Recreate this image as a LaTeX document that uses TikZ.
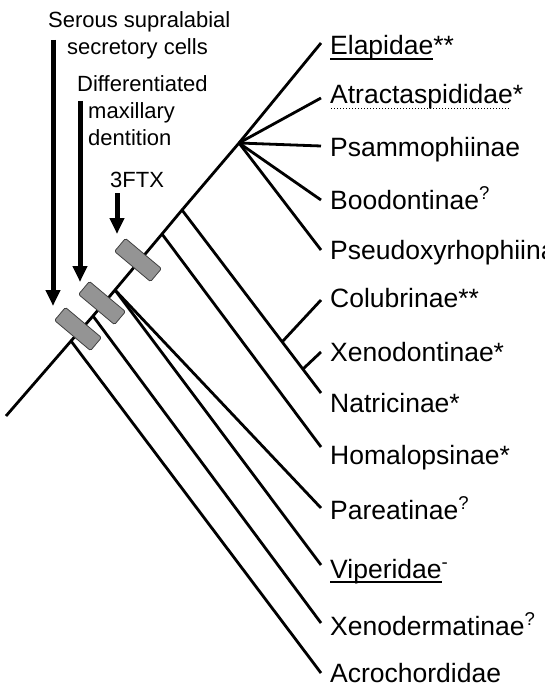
\documentclass[tikz,border=0pt]{standalone}
\usepackage{fontspec}
\setmainfont{Liberation Sans}
\usetikzlibrary{arrows.meta}
\newcommand{\ulsolid}[1]{\setbox0\hbox{#1}\rlap{\rule[-5pt]{\wd0}{1.6pt}}\box0}
\newcommand{\uldotted}[1]{\setbox0\hbox{#1}\rlap{\hbox to \wd0{\leaders\hbox to 3pt{\hss\rule[-5pt]{1.3pt}{1.3pt}\hss}\hfill}}\box0}
\begin{document}
\begin{tikzpicture}[x=1pt,y=-1pt,
  branch/.style={line width=2.8pt,line join=round},
  leaf/.style={anchor=base west,inner sep=0pt,font=\fontsize{26.5}{30}\selectfont},
  note/.style={anchor=base west,inner sep=0pt,font=\fontsize{22}{26}\selectfont},
  gainbox/.style={draw=black!75,line width=0.8pt,fill=black!42,rounded corners=1.5pt,
    minimum width=47pt,minimum height=17pt,inner sep=0pt,rotate=-40},
  gain/.style={line width=5pt,-{Triangle[width=14pt,length=16pt]}}]
  \useasboundingbox (0,0) rectangle (544,687);
  % spine of the tree
  \coordinate (root) at (6,416);
  \coordinate (n1) at (71,341);
  \coordinate (n2) at (93,316);
  \coordinate (n3) at (115,290);
  \coordinate (n4) at (162,234);
  \coordinate (n5) at (182,210);
  \coordinate (n6) at (239,143);
  \coordinate (c1) at (282,342);
  \coordinate (c2) at (303,369);
  % leaves
  \foreach \n/\ty/\ly/\txt in {
    Ela/43/55/{\ulsolid{Elapidae}**},
    Atr/98/104/{\uldotted{Atractaspididae}*},
    Psa/146/157/{Psammophiinae},
    Boo/200/209/{Boodontinae\textsuperscript{?}},
    Pse/250/259/{Pseudoxyrhophiinae},
    Col/300/307/{Colubrinae**},
    Xen/352/361/{Xenodontinae*},
    Nat/393/412/{Natricinae*},
    Hom/447/464/{Homalopsinae*},
    Par/508/519/{Pareatinae\textsuperscript{?}},
    Vip/565/578/{\ulsolid{Viperidae}\textsuperscript{-}},
    Xdm/623/635/{Xenodermatinae\textsuperscript{?}},
    Acr/673/682/{Acrochordidae}}
  {
    \coordinate (t\n) at (321,\ty);
    \node[leaf] (l\n) at (330,\ly) {\txt};
  }
  \draw[branch] (root) -- (n1) -- (n2) -- (n3) -- (n4) -- (n5) -- (n6) -- (tEla);
  \draw[branch] (n1) -- (tAcr);
  \draw[branch] (n2) -- (tXdm);
  \draw[branch] (n3) -- (tVip);
  \draw[branch] (n3) -- (tPar);
  \draw[branch] (n4) -- (tHom);
  \draw[branch] (n5) -- (tNat);
  \draw[branch] (c1) -- (tCol);
  \draw[branch] (c2) -- (tXen);
  \foreach \n in {Atr,Psa,Boo,Pse}
    \draw[branch] (n6) -- (t\n);
  % character gains
  \node[gainbox] (g1) at (78,329) {};
  \node[gainbox] (g2) at (102,303) {};
  \node[gainbox] (g3) at (138,260) {};
  \node[note] (ser1) at (48,28) {Serous supralabial};
  \node[note] (ser2) at (67,55) {secretory cells};
  \node[note] (dif1) at (77,92) {Differentiated};
  \node[note] (dif2) at (88,119) {maxillary};
  \node[note] (dif3) at (88,146) {dentition};
  \node[note] (ftx) at (110,187) {3FTX};
  \coordinate (a1) at (53,40);
  \coordinate (a1e) at (53,306);
  \coordinate (a2) at (80,101);
  \coordinate (a2e) at (80,282);
  \coordinate (a3) at (117,193);
  \coordinate (a3e) at (117,234);
  \draw[gain] (a1) -- (a1e);
  \draw[gain] (a2) -- (a2e);
  \draw[gain] (a3) -- (a3e);
\end{tikzpicture}
\end{document}
